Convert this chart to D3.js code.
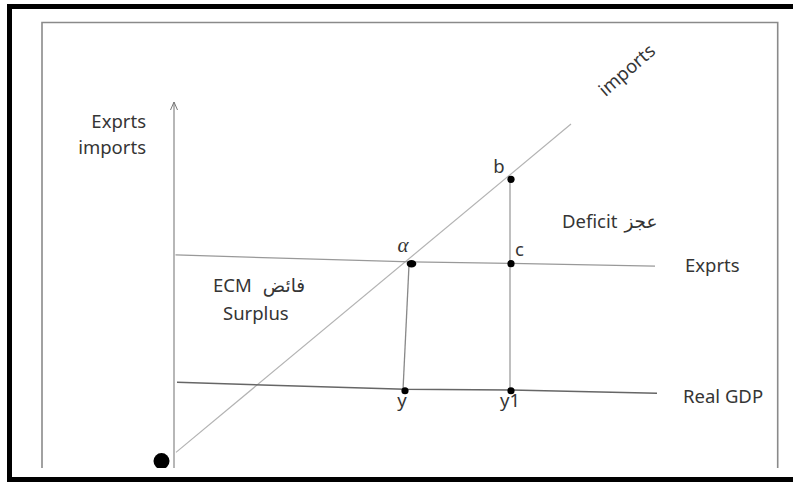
<!DOCTYPE html>
<html>
<head>
<meta charset="utf-8">
<script src="https://cdn.jsdelivr.net/npm/d3@7"></script>
<style>
    body { margin: 0; background: #fff; overflow: hidden; }
    text { font-family: "Noto Sans", "DejaVu Sans", sans-serif; fill: #353535; }
</style>
</head>
<body>
<div id="chart"></div>
<script>
// diagram geometry, in abstract units (x: output, y: value)
const importsLine = [{x: 0.4, y: -0.1}, {x: 79.4, y: 93.7}];
const exportsLine = [{x: 0.3, y: 56.3}, {x: 47.4, y: 54.3}, {x: 67.4, y: 53.9}, {x: 96.2, y: 53.1}];
const gdpLine = [{x: 0.6, y: 19.9}, {x: 46.2, y: 17.9}, {x: 67.4, y: 17.7}, {x: 96.6, y: 16.8}];
const dropAlpha = [{x: 47.0, y: 53.4}, {x: 45.8, y: 17.7}];
const dropB = [{x: 67.2, y: 78.0}, {x: 67.2, y: 17.7}];
const yAxisRange = [-4.6, 100];
const points = [
    {name: "alpha", x: 47.5, y: 53.8},
    {name: "b", x: 67.4, y: 77.9},
    {name: "c", x: 67.4, y: 53.8},
    {name: "y", x: 46.2, y: 17.5},
    {name: "y1", x: 67.4, y: 17.5}
];
const origin = {x: -2.5, y: -2.6};

document.addEventListener("DOMContentLoaded", draw)

function draw(){
    const width = 793;
    const height = 483;
    const svg = d3.select("#chart").append("svg")
        .attr("width", width)
        .attr("height", height)
        .style("display", "block");

    const x = d3.scaleLinear().domain([0, 100]).range([174, 674]);
    const y = d3.scaleLinear().domain([0, 100]).range([452, 102]);
    const line = d3.line().x(d => x(d.x)).y(d => y(d.y));

    svg.append("defs").append("clipPath").attr("id", "crop")
        .append("rect").attr("x", 0).attr("y", 0).attr("width", width).attr("height", 468);

    const g = svg.append("g").attr("clip-path", "url(#crop)");

    // inner frame (cropped at the bottom)
    g.append("path")
        .attr("d", "M42,470V22.5H777.7V470")
        .attr("fill", "none")
        .attr("stroke", "#8a8a8a")
        .attr("stroke-width", 1.6);

    // y axis with arrow
    g.append("path")
        .attr("d", line([{x: 0, y: yAxisRange[0]}, {x: 0, y: yAxisRange[1]}]))
        .attr("stroke", "#999").attr("stroke-width", 1.4).attr("fill", "none");
    g.append("path")
        .attr("d", `M${x(0) - 3.5},${y(yAxisRange[1]) + 8}L${x(0)},${y(yAxisRange[1])}L${x(0) + 3.5},${y(yAxisRange[1]) + 8}`)
        .attr("stroke", "#777").attr("stroke-width", 1).attr("fill", "none");

    const lines = [
        {data: importsLine, color: "#b3b3b3", w: 1.2},
        {data: exportsLine, color: "#999", w: 1.3},
        {data: gdpLine, color: "#666", w: 1.5},
        {data: dropAlpha, color: "#888", w: 1.3},
        {data: dropB, color: "#aaa", w: 1.5}
    ];
    g.selectAll(".ln")
        .data(lines)
        .enter()
        .append("path")
        .attr("class", "ln")
        .attr("d", d => line(d.data))
        .attr("fill", "none")
        .attr("stroke", d => d.color)
        .attr("stroke-width", d => d.w);

    g.selectAll(".pt")
        .data(points)
        .enter()
        .append("ellipse")
        .attr("class", "pt")
        .attr("cx", d => x(d.x))
        .attr("cy", d => y(d.y))
        .attr("rx", d => d.name === "alpha" ? 4.8 : 3.6)
        .attr("ry", d => d.name === "alpha" ? 3.8 : 3.6)
        .attr("fill", "#000");

    g.append("circle")
        .attr("cx", x(origin.x))
        .attr("cy", y(origin.y))
        .attr("r", 8)
        .attr("fill", "#000");

    // labels
    const fs = 18.5;
    const label = (t, px, py, anchor) => svg.append("text")
        .attr("x", px).attr("y", py)
        .attr("text-anchor", anchor || "start")
        .style("font-size", fs + "px")
        .text(t);

    label("Exprts", 146, 127.5, "end");
    label("imports", 146, 154, "end");
    svg.append("text")
        .attr("transform", "translate(631,75) rotate(-41)")
        .attr("text-anchor", "middle")
        .style("font-size", fs + "px")
        .text("imports");
    label("b", x(67.4) - 12, 173, "middle");
    label("Deficit", 562, 227.5);
    label("عجز", 641, 227.5, "middle");
    svg.append("text")
        .attr("x", 403).attr("y", 251.5)
        .attr("text-anchor", "middle")
        .style("font-family", "'Liberation Serif', 'DejaVu Serif', serif")
        .style("font-style", "italic")
        .style("font-size", "21px")
        .text("α");
    label("c", 515, 256);
    label("Exprts", 685, 272);
    label("ECM", 213, 292.3);
    label("فائض", 284, 292.3, "middle");
    label("Surplus", 223, 319.5);
    label("y", x(46.2) - 3, 407, "middle");
    label("y1", 500, 407);
    label("Real GDP", 683, 403);

    // outer black border (right side runs off the picture)
    svg.append("rect")
        .attr("x", 9.5).attr("y", 6.5)
        .attr("width", 840).attr("height", 473)
        .attr("fill", "none")
        .attr("stroke", "#000")
        .attr("stroke-width", 5);
}
</script>
</body>
</html>
